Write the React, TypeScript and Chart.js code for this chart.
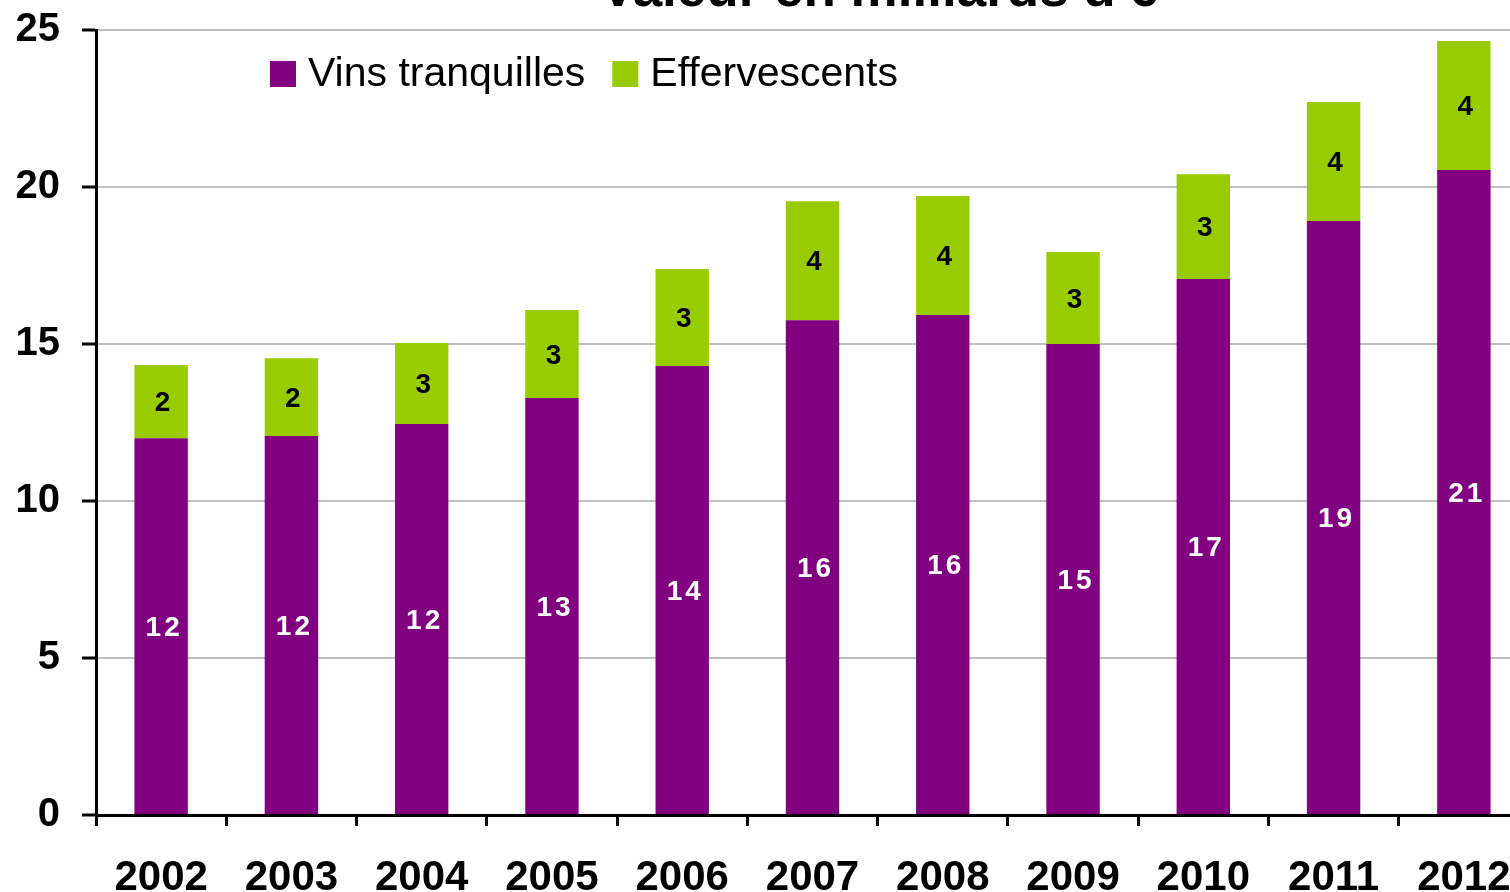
import React, { useEffect, useRef } from "react";
import { Chart, registerables } from "chart.js";

Chart.register(...registerables);

const TITLE = "Valeur en milliards d'€";
const YEARS = ["2002", "2003", "2004", "2005", "2006", "2007", "2008", "2009", "2010", "2011", "2012"];
const VINS_TRANQUILLES = [12.0, 12.07, 12.45, 13.28, 14.3, 15.76, 15.92, 15.0, 17.07, 18.92, 20.54];
const EFFERVESCENTS = [2.33, 2.48, 2.58, 2.8, 3.09, 3.79, 3.79, 2.93, 3.34, 3.79, 4.11];
const SERIES_NAMES = ["Vins tranquilles", "Effervescents"];
const SERIES_COLORS = ["#800080", "#99CC00"];
const LABEL_COLORS = ["#FFFFFF", "#000000"];
const Y_TICKS = [0, 5, 10, 15, 20, 25];

const FONT = "'Liberation Sans', Arial, Helvetica, sans-serif";

const labelsPlugin = {
  id: "barLabels",
  afterDatasetsDraw(chart: any) {
    const ctx = chart.ctx;
    ctx.save();
    ctx.font = `bold 28px ${FONT}`;
    try {
      (ctx as any).letterSpacing = "3px";
    } catch (e) {}
    ctx.textAlign = "center";
    ctx.textBaseline = "middle";
    chart.data.datasets.forEach((ds: any, di: number) => {
      const meta = chart.getDatasetMeta(di);
      meta.data.forEach((el: any, i: number) => {
        const p = el.getProps(["x", "y", "base"], true);
        const v = Math.round(ds.data[i]);
        ctx.fillStyle = LABEL_COLORS[di];
        ctx.fillText(String(v), p.x + 3, (p.y + p.base) / 2 + 2);
      });
    });
    ctx.restore();
  },
};

const legendTitlePlugin = {
  id: "legendTitle",
  afterDraw(chart: any) {
    const ctx = chart.ctx;
    const area = chart.chartArea;
    ctx.save();
    // title
    ctx.font = `bold 53px ${FONT}`;
    ctx.fillStyle = "#000";
    ctx.textAlign = "center";
    ctx.textBaseline = "alphabetic";
    ctx.fillText(TITLE, 879, 6);
    // legend
    ctx.font = `41px ${FONT}`;
    ctx.textAlign = "left";
    ctx.textBaseline = "middle";
    let x = area.left + 174;
    const yTop = area.top + 31;
    const sq = 26;
    SERIES_NAMES.forEach((name, i) => {
      ctx.fillStyle = SERIES_COLORS[i];
      ctx.fillRect(x, yTop, sq, sq);
      ctx.fillStyle = "#000";
      ctx.fillText(name, x + sq + 12, yTop + sq / 2 + 1);
      x += sq + 12 + ctx.measureText(name).width + 27;
    });
    ctx.restore();
  },
};

export default function App() {
  const ref = useRef<HTMLCanvasElement>(null);
  useEffect(() => {
    if (!ref.current) return;
    Chart.defaults.font.family = FONT;
    const chart = new Chart(ref.current, {
      type: "bar",
      data: {
        labels: YEARS,
        datasets: [
          {
            label: SERIES_NAMES[0],
            data: VINS_TRANQUILLES,
            backgroundColor: SERIES_COLORS[0],
            barPercentage: 0.41,
            categoryPercentage: 1.0,
          },
          {
            label: SERIES_NAMES[1],
            data: EFFERVESCENTS,
            backgroundColor: SERIES_COLORS[1],
            barPercentage: 0.41,
            categoryPercentage: 1.0,
          },
        ],
      },
      options: {
        responsive: false,
        animation: false,
        devicePixelRatio: 1,
        layout: { padding: { top: 30, right: 31, left: 0, bottom: 0 } },
        plugins: {
          legend: { display: false },
          title: { display: false },
          tooltip: { enabled: false },
        },
        scales: {
          x: {
            stacked: true,
            afterFit: (s: any) => {
              s.height = 77;
              s.paddingLeft = 0;
              s.paddingRight = 0;
            },
            grid: {
              offset: true,
              drawOnChartArea: false,
              drawTicks: true,
              tickLength: 11,
              tickColor: "#000",
              tickWidth: 3,
            },
            border: { display: true, color: "#000", width: 3 },
            ticks: {
              color: "#000",
              font: { size: 42, weight: "bold", family: FONT },
              padding: 27,
              maxRotation: 0,
              autoSkip: false,
            },
          },
          y: {
            stacked: true,
            min: 0,
            max: 25,
            afterFit: (s: any) => {
              s.width = 96;
              s.paddingTop = 0;
              s.paddingBottom = 0;
            },
            afterBuildTicks: (s: any) => {
              s.ticks = Y_TICKS.map((v) => ({ value: v }));
            },
            grid: {
              color: "#C0C0C0",
              lineWidth: 2,
              drawTicks: true,
              tickLength: 14,
              tickColor: "#000",
              tickWidth: 3,
            },
            border: { display: true, color: "#000", width: 3 },
            ticks: {
              color: "#000",
              font: { size: 40, weight: "bold", family: FONT },
              padding: 22,
            },
          },
        },
      },
      plugins: [labelsPlugin, legendTitlePlugin],
    });
    return () => chart.destroy();
  }, []);
  return (
    <div
      style={{
        position: "fixed",
        left: 0,
        top: 0,
        width: 1510,
        height: 892,
        overflow: "hidden",
        background: "#fff",
      }}
    >
      <canvas ref={ref} width={1560} height={892} style={{ width: 1560, height: 892, display: "block" }} />
    </div>
  );
}
